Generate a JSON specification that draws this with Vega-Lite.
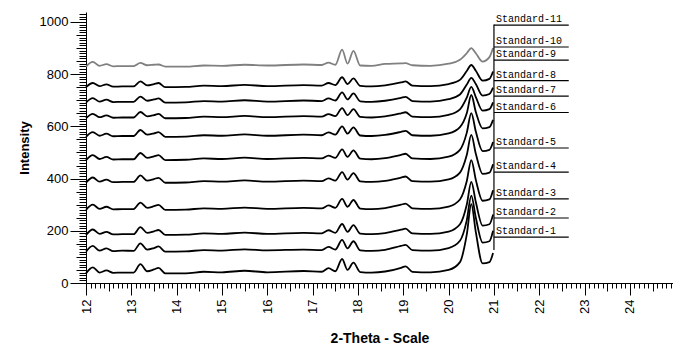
{
  "$schema": "https://vega.github.io/schema/vega-lite/v6.json",
  "autosize": "none",
  "width": 587,
  "height": 271,
  "padding": {"left": 86, "top": 12, "right": 0, "bottom": 65},
  "background": "white",
  "config": {
    "view": {"stroke": null},
    "axis": {"grid": false, "domainColor": "black", "tickColor": "black", "labelColor": "black", "titleColor": "black", "labelFont": "Liberation Sans", "titleFont": "Liberation Sans", "ticks": true, "tickOpacity": 1, "tickWidth": 1}
  },
  "resolve": {"axis": {"x": "independent", "y": "independent"}},
  "layer": [
    {
      "data": {"values": [
        {"x":12.0,"s1":37,"s2":120,"s3":184,"s4":280,"s5":384,"s6":471,"s7":560,"s8":631,"s9":691,"s10":750,"s11":829},
        {"x":12.15,"s1":60,"s2":142,"s3":205,"s4":300,"s5":404,"s6":490,"s7":578,"s8":648,"s9":708,"s10":766,"s11":847},
        {"x":12.3,"s1":40,"s2":124,"s3":188,"s4":284,"s5":388,"s6":475,"s7":564,"s8":635,"s9":695,"s10":754,"s11":832},
        {"x":12.45,"s1":48,"s2":133,"s3":196,"s4":292,"s5":396,"s6":483,"s7":572,"s8":642,"s9":702,"s10":761,"s11":838},
        {"x":12.6,"s1":39,"s2":122,"s3":186,"s4":282,"s5":386,"s6":473,"s7":562,"s8":633,"s9":693,"s10":752,"s11":830},
        {"x":12.8,"s1":40,"s2":124,"s3":187,"s4":283,"s5":387,"s6":474,"s7":563,"s8":634,"s9":694,"s10":753,"s11":831},
        {"x":13.05,"s1":40,"s2":123,"s3":187,"s4":283,"s5":387,"s6":474,"s7":563,"s8":634,"s9":694,"s10":753,"s11":831},
        {"x":13.2,"s1":72,"s2":152,"s3":214,"s4":308,"s5":412,"s6":498,"s7":586,"s8":655,"s9":714,"s10":772,"s11":843},
        {"x":13.35,"s1":45,"s2":128,"s3":192,"s4":288,"s5":392,"s6":479,"s7":568,"s8":638,"s9":698,"s10":757,"s11":834},
        {"x":13.5,"s1":52,"s2":134,"s3":198,"s4":294,"s5":398,"s6":485,"s7":573,"s8":643,"s9":703,"s10":762,"s11":836},
        {"x":13.6,"s1":58,"s2":140,"s3":203,"s4":299,"s5":403,"s6":490,"s7":578,"s8":648,"s9":707,"s10":766,"s11":837},
        {"x":13.75,"s1":37,"s2":120,"s3":184,"s4":280,"s5":384,"s6":471,"s7":560,"s8":631,"s9":691,"s10":750,"s11":829},
        {"x":14.2,"s1":37,"s2":121,"s3":185,"s4":281,"s5":385,"s6":472,"s7":561,"s8":632,"s9":692,"s10":751,"s11":829},
        {"x":14.6,"s1":43,"s2":126,"s3":190,"s4":286,"s5":390,"s6":477,"s7":566,"s8":637,"s9":697,"s10":756,"s11":833},
        {"x":15.0,"s1":41,"s2":124,"s3":188,"s4":284,"s5":388,"s6":475,"s7":564,"s8":635,"s9":695,"s10":754,"s11":832},
        {"x":15.5,"s1":47,"s2":129,"s3":193,"s4":289,"s5":393,"s6":480,"s7":569,"s8":640,"s9":700,"s10":759,"s11":836},
        {"x":16.0,"s1":41,"s2":125,"s3":188,"s4":284,"s5":388,"s6":475,"s7":564,"s8":635,"s9":695,"s10":754,"s11":833},
        {"x":16.8,"s1":46,"s2":128,"s3":192,"s4":288,"s5":392,"s6":479,"s7":568,"s8":639,"s9":699,"s10":758,"s11":837},
        {"x":17.2,"s1":43,"s2":126,"s3":190,"s4":286,"s5":390,"s6":477,"s7":566,"s8":637,"s9":697,"s10":756,"s11":835},
        {"x":17.35,"s1":57,"s2":138,"s3":202,"s4":297,"s5":401,"s6":488,"s7":577,"s8":647,"s9":707,"s10":766,"s11":844},
        {"x":17.5,"s1":45,"s2":128,"s3":192,"s4":288,"s5":392,"s6":479,"s7":568,"s8":639,"s9":699,"s10":758,"s11":836},
        {"x":17.65,"s1":92,"s2":165,"s3":226,"s4":322,"s5":425,"s6":512,"s7":600,"s8":670,"s9":730,"s10":788,"s11":894},
        {"x":17.77,"s1":50,"s2":133,"s3":196,"s4":292,"s5":396,"s6":483,"s7":572,"s8":643,"s9":703,"s10":762,"s11":840},
        {"x":17.9,"s1":78,"s2":160,"s3":222,"s4":318,"s5":421,"s6":508,"s7":596,"s8":666,"s9":726,"s10":784,"s11":889},
        {"x":18.05,"s1":42,"s2":125,"s3":189,"s4":285,"s5":389,"s6":476,"s7":565,"s8":636,"s9":696,"s10":755,"s11":833},
        {"x":18.3,"s1":40,"s2":123,"s3":187,"s4":283,"s5":387,"s6":474,"s7":563,"s8":634,"s9":694,"s10":753,"s11":832},
        {"x":18.6,"s1":44,"s2":127,"s3":191,"s4":287,"s5":391,"s6":478,"s7":567,"s8":638,"s9":698,"s10":757,"s11":839},
        {"x":18.95,"s1":58,"s2":142,"s3":204,"s4":300,"s5":404,"s6":491,"s7":579,"s8":650,"s9":709,"s10":768,"s11":841},
        {"x":19.05,"s1":64,"s2":146,"s3":208,"s4":304,"s5":408,"s6":495,"s7":583,"s8":654,"s9":713,"s10":772,"s11":842},
        {"x":19.2,"s1":43,"s2":126,"s3":190,"s4":286,"s5":390,"s6":477,"s7":566,"s8":637,"s9":697,"s10":756,"s11":834},
        {"x":19.6,"s1":41,"s2":124,"s3":188,"s4":284,"s5":388,"s6":475,"s7":564,"s8":635,"s9":695,"s10":754,"s11":832},
        {"x":20.0,"s1":50,"s2":134,"s3":197,"s4":293,"s5":397,"s6":484,"s7":573,"s8":644,"s9":704,"s10":762,"s11":840},
        {"x":20.25,"s1":80,"s2":162,"s3":225,"s4":320,"s5":423,"s6":510,"s7":597,"s8":665,"s9":722,"s10":778,"s11":855},
        {"x":20.4,"s1":185,"s2":240,"s3":300,"s4":390,"s5":490,"s6":575,"s7":650,"s8":710,"s9":760,"s10":812,"s11":880},
        {"x":20.5,"s1":302,"s2":335,"s3":387,"s4":471,"s5":567,"s6":651,"s7":720,"s8":751,"s9":786,"s10":835,"s11":900},
        {"x":20.6,"s1":195,"s2":250,"s3":310,"s4":395,"s5":495,"s6":580,"s7":655,"s8":712,"s9":762,"s10":813,"s11":880},
        {"x":20.75,"s1":75,"s2":155,"s3":220,"s4":315,"s5":418,"s6":505,"s7":592,"s8":660,"s9":718,"s10":775,"s11":848},
        {"x":20.9,"s1":80,"s2":160,"s3":225,"s4":320,"s5":423,"s6":510,"s7":597,"s8":666,"s9":724,"s10":782,"s11":865},
        {"x":20.98,"s1":115,"s2":200,"s3":262,"s4":355,"s5":455,"s6":540,"s7":625,"s8":692,"s9":748,"s10":810,"s11":900}
      ]},
      "transform": [{"fold": ["s1","s2","s3","s4","s5","s6","s7","s8","s9","s10","s11"], "as": ["series","value"]}],
      "mark": {"type": "line", "strokeWidth": 1.8, "interpolate": "monotone"},
      "encoding": {
        "x": {"field": "x", "type": "quantitative",
              "scale": {"domain": [12, 24.95], "nice": false, "zero": false},
              "axis": {"orient": "bottom", "values": [12,13,14,15,16,17,18,19,20,21,22,23,24], "tickSize": 12, "labelAngle": -90, "labelFontSize": 13, "labelPadding": 4, "title": "2-Theta - Scale", "titleFontSize": 14, "titleFontWeight": "bold", "titlePadding": 18}},
        "y": {"field": "value", "type": "quantitative",
              "scale": {"domain": [0, 1038], "nice": false, "zero": false},
              "axis": {"orient": "left", "values": [0,200,400,600,800,1000], "format": "d", "tickSize": 16, "labelFontSize": 13, "labelPadding": 2, "title": "Intensity", "titleFontSize": 13, "titleFontWeight": "bold", "titlePadding": 8}},
        "color": {"field": "series", "type": "nominal", "legend": null,
                  "scale": {"domain": ["s1","s2","s3","s4","s5","s6","s7","s8","s9","s10","s11"],
                            "range": ["#000000","#000000","#000000","#000000","#000000","#000000","#000000","#000000","#000000","#000000","#808080"]}}
      }
    },
    {
      "data": {"values": [
        {"label": "Standard-11", "u": 988},
        {"label": "Standard-10", "u": 904},
        {"label": "Standard-9", "u": 854},
        {"label": "Standard-8", "u": 775},
        {"label": "Standard-7", "u": 716},
        {"label": "Standard-6", "u": 653},
        {"label": "Standard-5", "u": 517},
        {"label": "Standard-4", "u": 425},
        {"label": "Standard-3", "u": 322},
        {"label": "Standard-2", "u": 249},
        {"label": "Standard-1", "u": 176}
      ]},
      "mark": {"type": "rule", "color": "black", "strokeWidth": 1.2},
      "encoding": {
        "x": {"datum": 21, "type": "quantitative",
              "axis": {"orient": "bottom", "values": [12.5,13.5,14.5,15.5,16.5,17.5,18.5,19.5,20.5,21.5,22.5,23.5,24.5], "tickSize": 8, "labels": false, "domain": false, "title": null}},
        "x2": {"datum": 22.65},
        "y": {"field": "u", "type": "quantitative",
              "axis": {"orient": "left", "values": [50,100,150,250,300,350,450,500,550,650,700,750,850,900,950], "tickSize": 10, "labels": false, "domain": false, "title": null}}
      }
    },
    {
      "data": {"values": [{"lo": 126, "hi": 990}]},
      "mark": {"type": "rule", "color": "black", "strokeWidth": 1.2},
      "encoding": {
        "x": {"datum": 21, "type": "quantitative",
              "axis": {"orient": "bottom", "tickCount": 130, "tickSize": 5, "labels": false, "domain": false, "title": null}},
        "y": {"field": "lo", "type": "quantitative",
              "axis": {"orient": "left", "tickCount": 104, "tickSize": 7, "labels": false, "domain": false, "title": null}},
        "y2": {"field": "hi"}
      }
    },
    {
      "data": {"values": [
        {"label": "Standard-11", "u": 988},
        {"label": "Standard-10", "u": 904},
        {"label": "Standard-9", "u": 854},
        {"label": "Standard-8", "u": 775},
        {"label": "Standard-7", "u": 716},
        {"label": "Standard-6", "u": 653},
        {"label": "Standard-5", "u": 517},
        {"label": "Standard-4", "u": 425},
        {"label": "Standard-3", "u": 322},
        {"label": "Standard-2", "u": 249},
        {"label": "Standard-1", "u": 176}
      ]},
      "mark": {"type": "text", "align": "left", "baseline": "bottom", "dx": 2, "dy": -1, "font": "Liberation Mono", "fontSize": 10, "color": "black"},
      "encoding": {
        "x": {"datum": 21, "type": "quantitative", "axis": null},
        "y": {"field": "u", "type": "quantitative", "axis": null},
        "text": {"field": "label"}
      }
    }
  ]
}
